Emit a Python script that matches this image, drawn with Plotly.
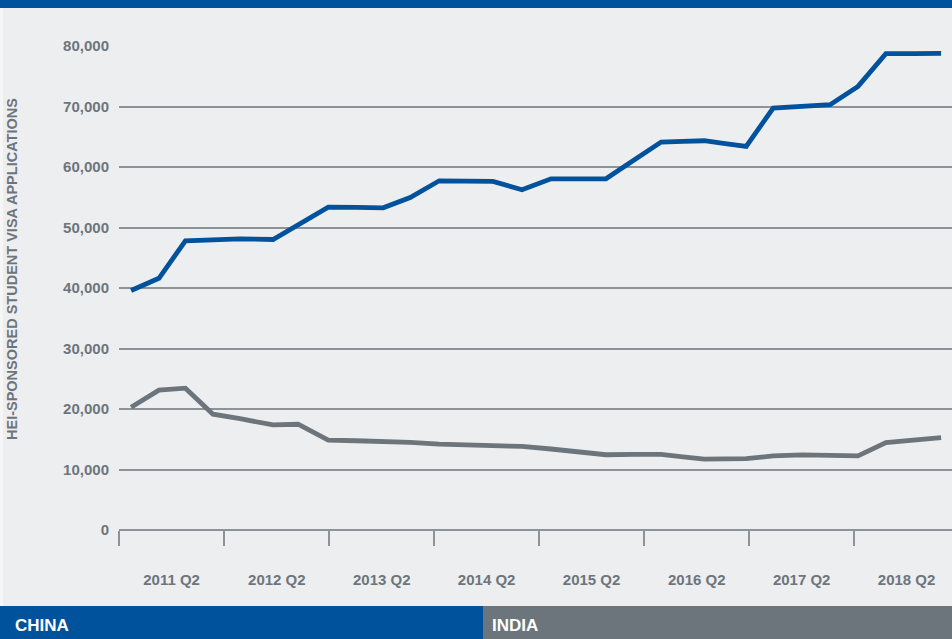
import plotly.graph_objects as go

# ---- data ----
dates = [
    "2011-05-13", "2011-08-18", "2011-11-18", "2012-02-22", "2012-05-26",
    "2012-09-18", "2012-12-14", "2013-03-29", "2013-07-04", "2013-10-06",
    "2014-01-08", "2014-04-19", "2014-07-21", "2014-10-23", "2015-02-01",
    "2015-05-13", "2015-08-15", "2015-11-20", "2016-02-26", "2016-05-30",
    "2016-08-14", "2016-10-27", "2017-01-08", "2017-03-22", "2017-06-24",
    "2017-10-03", "2018-01-08", "2018-04-15", "2018-07-21", "2018-10-27",
    "2019-01-29",
]
china = [
    39580, 41600, 47800, 47970, 48130, 48020, 50390, 53370, 53310, 53260,
    54960, 57720, 57660, 57610, 56240, 58050, 58050, 58050, 61160, 64130,
    64240, 64340, 63870, 63400, 69750, 70020, 70300, 73320, 78730, 78750,
    78780,
]
india = [
    20290, 23110, 23440, 19140, 18390, 17370, 17480, 14840, 14750, 14660,
    14500, 14200, 14070, 13940, 13810, 13390, 12920, 12440, 12490, 12490,
    12090, 11700, 11740, 11790, 12240, 12420, 12350, 12240, 14440, 14850,
    15270,
]
year_label_pos = ["2011-10-01", "2012-10-01", "2013-10-01", "2014-10-01",
                  "2015-10-01", "2016-10-01", "2017-10-01", "2018-10-01"]
year_labels = ["2011 Q2", "2012 Q2", "2013 Q2", "2014 Q2",
               "2015 Q2", "2016 Q2", "2017 Q2", "2018 Q2"]
y_ticks = [0, 10000, 20000, 30000, 40000, 50000, 60000, 70000, 80000]
series_names = ["CHINA", "INDIA"]

# ---- style ----
BLUE = "#01529c"
GREY = "#6b757b"
BG = "#edeef0"
TXT = "#6d757c"
GRID = "#8d9399"
FONT = "Liberation Sans"

W, H = 952, 639
L, R, T, B = 119, 0, 46, 109


def px2x(px):
    return (px - L) / (W - L - R)


def py2y(py):
    return (H - B - py) / (H - T - B)


fig = go.Figure()
fig.add_trace(go.Scatter(x=dates, y=china, mode="lines", name=series_names[0],
                         line=dict(color=BLUE, width=4.8)))
fig.add_trace(go.Scatter(x=dates, y=india, mode="lines", name=series_names[1],
                         line=dict(color=GREY, width=4.8)))

fig.update_layout(
    width=W, height=H,
    margin=dict(l=L, r=R, t=T, b=B),
    paper_bgcolor=BG, plot_bgcolor=BG,
    showlegend=False,
    font=dict(family=FONT, color=TXT),
    xaxis=dict(
        type="date",
        range=["2011-04-01", "2019-03-08"],
        tickmode="array", tickvals=year_label_pos, ticktext=year_labels,
        ticks="outside", ticklen=36, tickcolor="rgba(0,0,0,0)",
        tickfont=dict(family=FONT, size=15, color=TXT, weight="bold"),
        showgrid=False, zeroline=False, showline=False,
        minor=dict(tick0="2011-04-01", dtick="M12", ticks="outside",
                   ticklen=15, tickwidth=1.5, tickcolor=GRID, showgrid=False),
    ),
    yaxis=dict(
        range=[0, 80000],
        tickmode="array", tickvals=y_ticks,
        ticktext=[f"{v:,}" for v in y_ticks],
        ticks="outside", ticklen=6, tickcolor="rgba(0,0,0,0)",
        tickfont=dict(family=FONT, size=15, color=TXT, weight="bold"),
        showgrid=True, gridcolor=GRID, gridwidth=1.5,
        zeroline=True, zerolinecolor=GRID, zerolinewidth=1.5,
        showline=False,
    ),
)

shapes = [
    # top bar
    dict(type="rect", xref="paper", yref="paper", x0=px2x(0), x1=px2x(W),
         y0=py2y(8), y1=py2y(0), fillcolor=BLUE, line=dict(width=0), layer="above"),
    # left light strip
    dict(type="rect", xref="paper", yref="paper", x0=px2x(0), x1=px2x(3),
         y0=py2y(606), y1=py2y(8), fillcolor="#f6f6f7", line=dict(width=0)),
    # legend blocks
    dict(type="rect", xref="paper", yref="paper", x0=px2x(0), x1=px2x(483),
         y0=py2y(H), y1=py2y(606), fillcolor=BLUE, line=dict(width=0)),
    dict(type="rect", xref="paper", yref="paper", x0=px2x(483), x1=px2x(W),
         y0=py2y(H), y1=py2y(606), fillcolor=GREY, line=dict(width=0)),
]
fig.update_layout(shapes=shapes)

annotations = [
    dict(text="HEI-SPONSORED STUDENT VISA APPLICATIONS", textangle=-90,
         xref="paper", yref="paper", x=px2x(12), y=py2y(269),
         xanchor="center", yanchor="middle", showarrow=False,
         font=dict(family=FONT, size=14.5, color=TXT, weight="bold")),
    dict(text=series_names[0], xref="paper", yref="paper",
         x=px2x(13), y=py2y(625), xanchor="left", yanchor="middle",
         showarrow=False, font=dict(family=FONT, size=17, color="white", weight="bold")),
    dict(text=series_names[1], xref="paper", yref="paper",
         x=px2x(490), y=py2y(625), xanchor="left", yanchor="middle",
         showarrow=False, font=dict(family=FONT, size=17, color="white", weight="bold")),
]
fig.update_layout(annotations=annotations)

fig.write_html(
    "out.html",
    config={"displayModeBar": False},
    post_script="document.body.style.margin='0';document.body.style.overflow='hidden';",
)
